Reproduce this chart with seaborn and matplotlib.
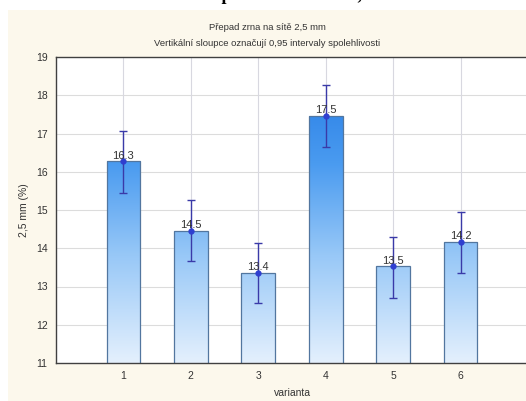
import numpy as np
import pandas as pd
import matplotlib
matplotlib.use("Agg")
import matplotlib.pyplot as plt
from matplotlib.patches import Rectangle
from matplotlib.colors import LinearSegmentedColormap
import seaborn as sns

# Mean sieve passing (%) per variant with 0.95 confidence limits
varianta = [1, 2, 3, 4, 5, 6]
prumer = [16.27, 14.46, 13.36, 17.46, 13.53, 14.16]
dolni_mez = [15.44, 13.67, 12.56, 16.65, 12.71, 13.36]
horni_mez = [17.06, 15.25, 14.15, 18.26, 14.29, 14.96]
y_ticks = [11, 12, 13, 14, 15, 16, 17, 18, 19]

df = pd.DataFrame({"varianta": varianta, "prumer": prumer})

sns.set_theme(style="white")
plt.rcParams["font.family"] = ["Liberation Sans", "DejaVu Sans"]

W, H = 526, 401
fig = plt.figure(figsize=(W / 100, H / 100), dpi=100)
fig.patch.set_facecolor("white")
# cream panel behind the chart
fig.add_artist(Rectangle((8 / W, 0), 1, 391 / H, transform=fig.transFigure,
                         facecolor="#fcf8ec", edgecolor="none", zorder=-10))

ax = fig.add_axes([56 / W, 38 / H, 472 / W, 306 / H])
ax.set_facecolor("white")

sns.barplot(data=df, x="varianta", y="prumer", native_scale=True, width=0.5,
            color="#6fb0f2", edgecolor="#52769f", linewidth=0.9, errorbar=None,
            ax=ax, zorder=2)

# vertical blue gradient fixed to the value scale, clipped to every bar
cmap = LinearSegmentedColormap.from_list(
    "modra",
    [(0.0, "#e4f0fd"), (0.35, "#98c8f7"), (0.65, "#4a9bf0"), (1.0, "#1f76e2")])
grad = np.linspace(0, 1, 256).reshape(-1, 1)
for bar in list(ax.patches):
    x0 = bar.get_x()
    x1 = x0 + bar.get_width()
    im = ax.imshow(grad, cmap=cmap, origin="lower", aspect="auto",
                   extent=[x0, x1, 11, 19], zorder=2.1, interpolation="bicubic")
    im.set_clip_path(bar)
    bar.set_facecolor("none")
    bar.set_zorder(2.2)
ax.set_xlim(0, 7)
ax.set_ylim(11, 19)

# confidence intervals and means
m = np.array(prumer)
err = [m - np.array(dolni_mez), np.array(horni_mez) - m]
ax.errorbar(varianta, prumer, yerr=err, fmt="o", ms=3.5, color="#3a3aa8",
            mfc="#2f3fd0", mec="#2f3fd0", elinewidth=1.0, capsize=3,
            capthick=1.0, zorder=4)

for x, v in zip(varianta, prumer):
    ax.annotate(f"{v:.1f}", (x, v), xytext=(0, 0.5), textcoords="offset points",
                ha="center", va="bottom", fontsize=8, color="#333333", zorder=5)

# grid
ax.set_xticks(varianta)
ax.set_yticks(y_ticks)
for y in y_ticks[1:-1]:
    ax.axhline(y, color="#dcdcdc", lw=0.8, zorder=0)
for x in varianta:
    ax.axvline(x, color="#d8d8e0", lw=0.8, zorder=0)

for side in ["left", "bottom", "top"]:
    ax.spines[side].set_visible(True)
    ax.spines[side].set_color("#404040")
    ax.spines[side].set_linewidth(1.0)
ax.spines["right"].set_visible(False)

ax.tick_params(axis="both", labelsize=7.5, colors="#333333", length=3,
               direction="out", width=0.6, pad=3)
ax.tick_params(axis="x", pad=3)
ax.set_xlabel("varianta", fontsize=7.5, color="#333333", labelpad=5)
ax.set_ylabel("2,5 mm (%)", fontsize=7.5, color="#333333", labelpad=5)

fig.text(0.5 + 8 / W / 2, 1 - 27 / H, "Přepad zrna na sítě 2,5 mm",
         ha="center", va="center", fontsize=6.8, color="#333333")
fig.text(0.5 + 8 / W / 2, 1 - 43 / H,
         "Vertikální sloupce označují 0,95 intervaly spolehlivosti",
         ha="center", va="center", fontsize=6.8, color="#333333")

# document caption above the panel, only its lower part fits on the page
fig.text(270 / W, 1 + 4 / H, "Graf 4 Propad zrna na sítě 2,5mm",
         ha="center", va="center", fontsize=13, fontweight="bold",
         family=["Liberation Serif", "DejaVu Serif"], color="black", zorder=-5)

fig.savefig("out.png", dpi=100)
